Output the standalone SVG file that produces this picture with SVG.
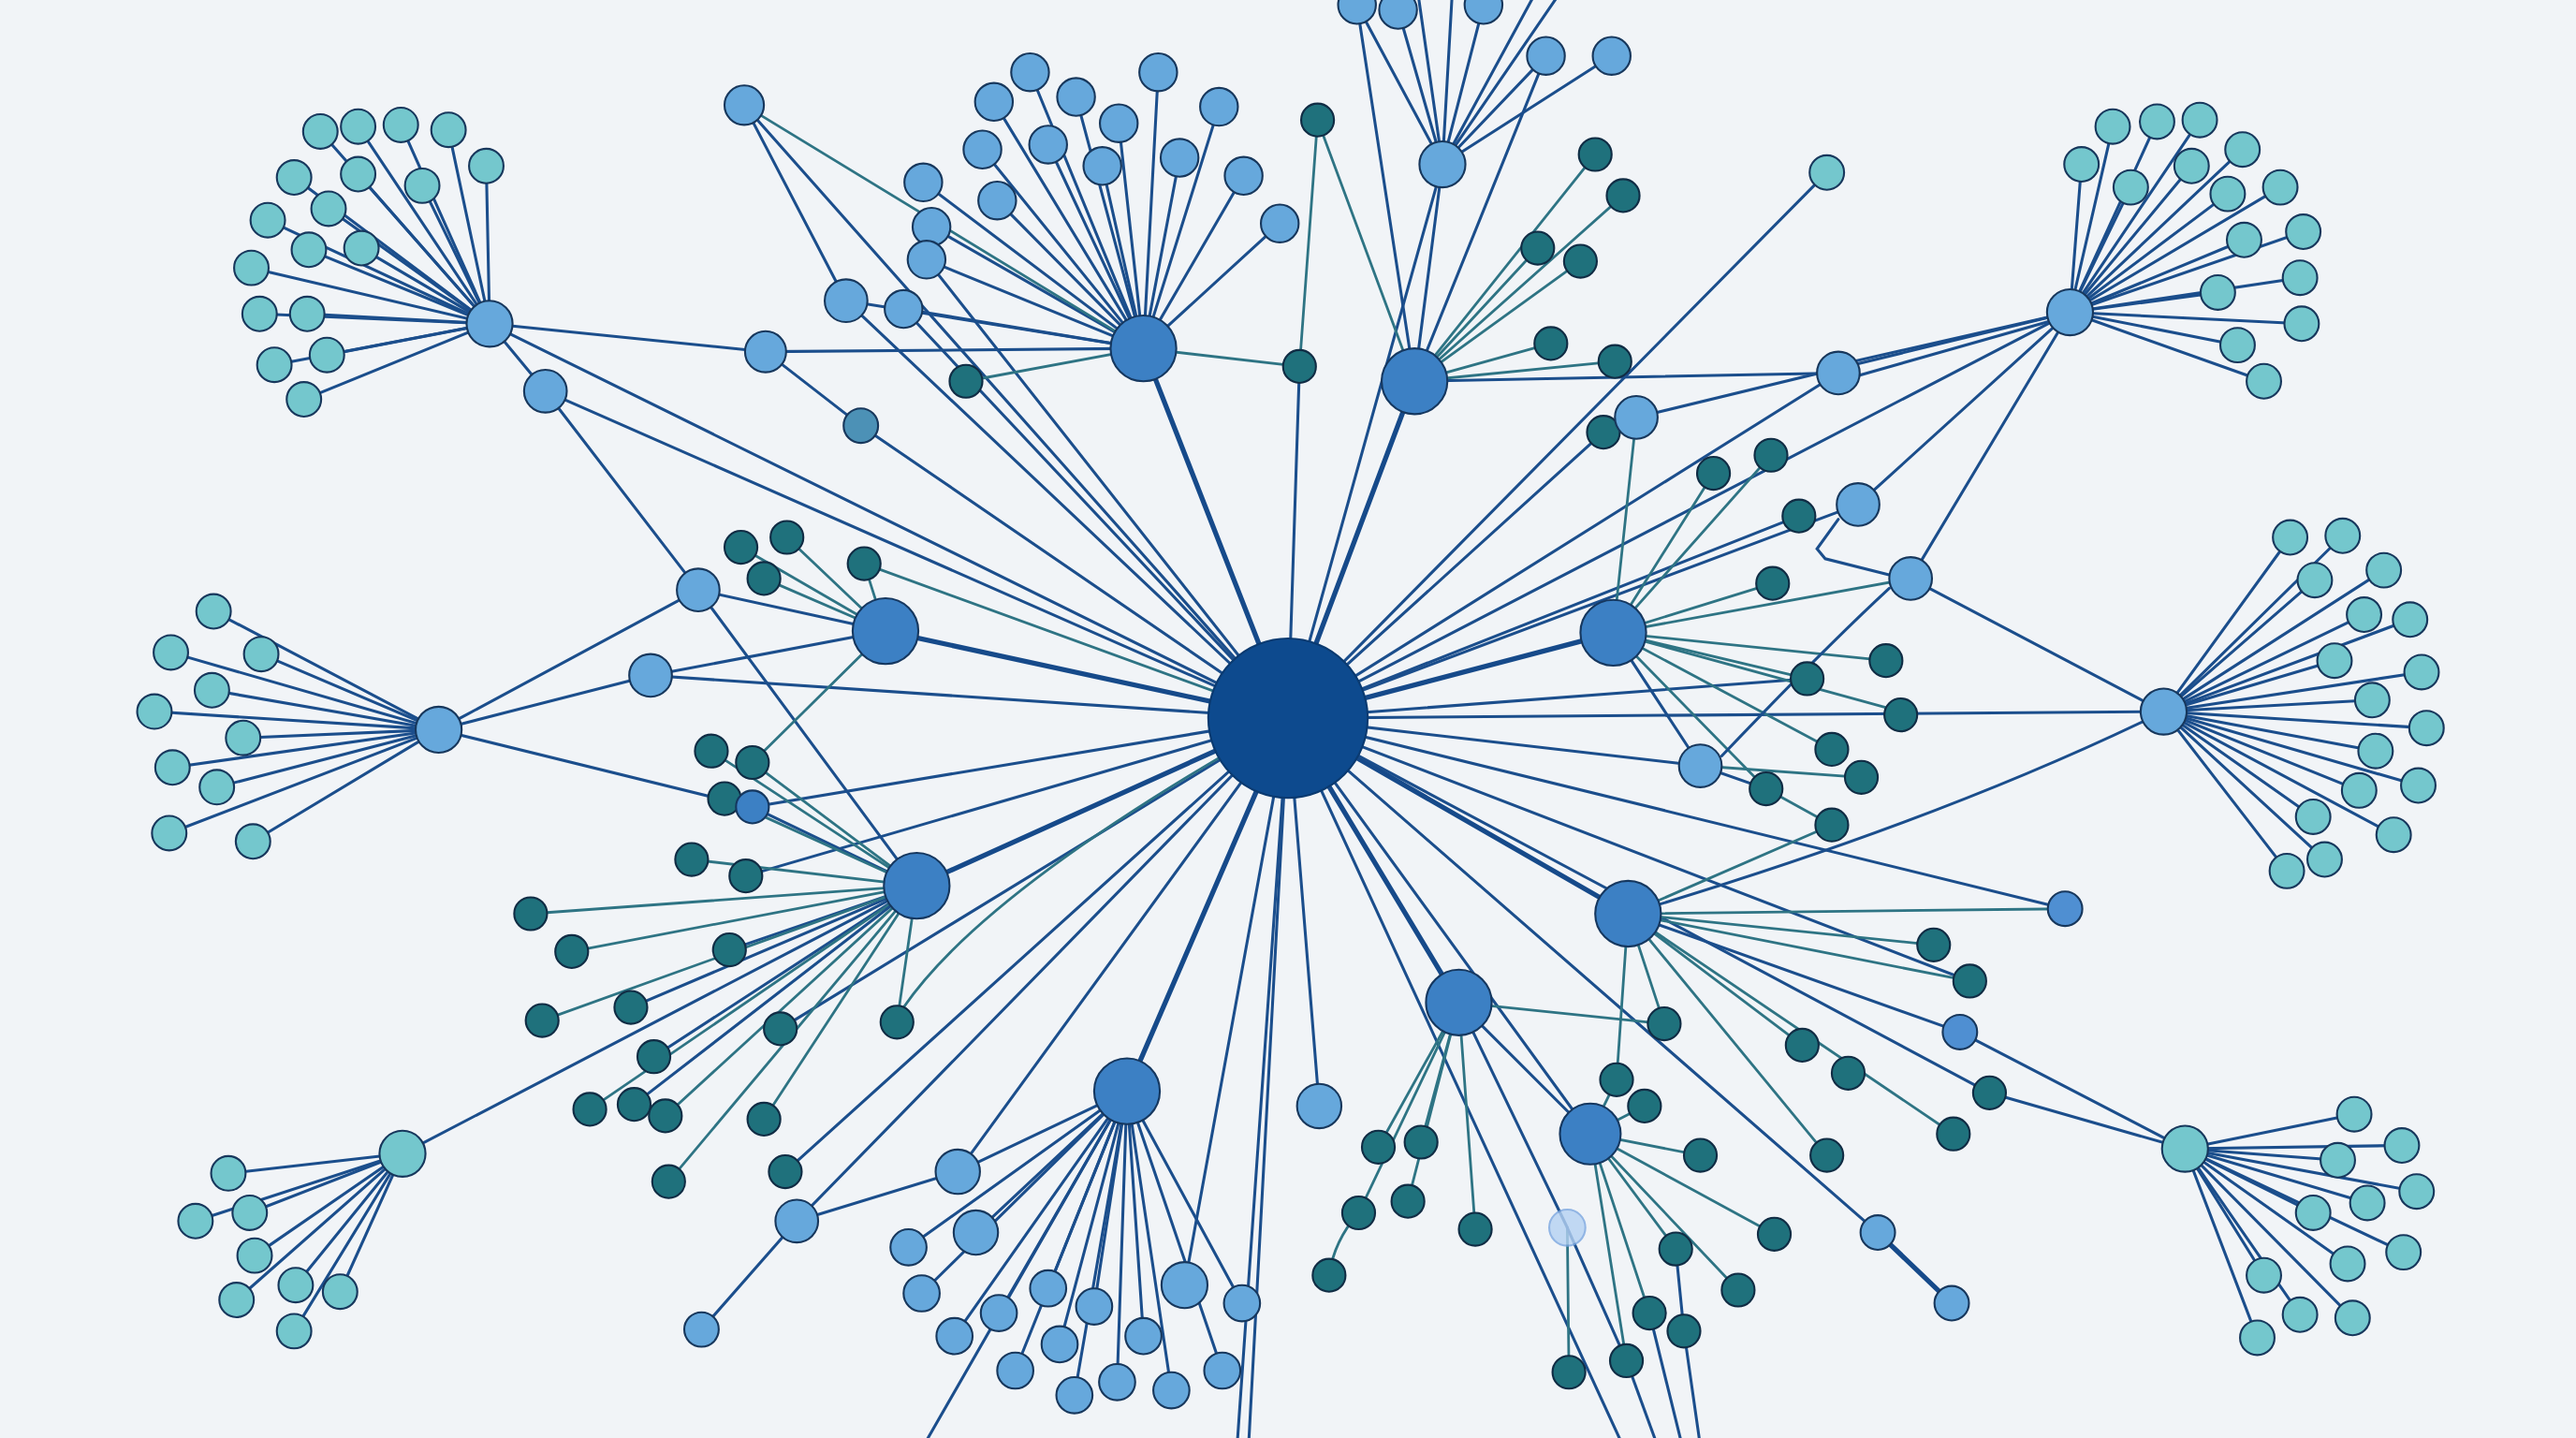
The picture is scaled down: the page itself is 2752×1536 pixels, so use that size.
<svg xmlns="http://www.w3.org/2000/svg" width="2752" height="1536" viewBox="0 0 2752 1536">
<style>
.e{stroke:#1b4e8c;stroke-width:1.75;fill:none;stroke-linecap:round}
.t{stroke:#2e7484;stroke-width:1.6;fill:none;stroke-linecap:round}
.k{stroke:#164a8a;stroke-width:3;fill:none;stroke-linecap:round}
circle{stroke-width:1.2}
.hub{fill:#0d4a8e;stroke:#0a3a70}
.mid{fill:#3c80c4;stroke:#15375f}
.lb{fill:#66a8dc;stroke:#17375c}
.tl{fill:#74c7cd;stroke:#17375c}
.dt{fill:#1f717c;stroke:#102c44}
.gh{fill:#b5d2f3;stroke:#7aa6e0;opacity:0.8}
</style>
<rect width="2752" height="1536" fill="#f1f4f7"/>
<g transform="scale(1.7551,1.7554)">
<g id="connectors">
<line class="k" x1="784" y1="437" x2="696" y2="212"/>
<line class="k" x1="784" y1="437" x2="861" y2="232"/>
<line class="k" x1="784" y1="437" x2="539" y2="384"/>
<line class="k" x1="784" y1="437" x2="982" y2="385"/>
<line class="k" x1="784" y1="437" x2="558" y2="539"/>
<line class="k" x1="784" y1="437" x2="991" y2="556"/>
<line class="k" x1="784" y1="437" x2="888" y2="610"/>
<line class="k" x1="784" y1="437" x2="686" y2="664"/>
<line class="e" x1="784" y1="437" x2="453" y2="64"/>
<line class="e" x1="784" y1="437" x2="515" y2="183"/>
<line class="e" x1="784" y1="437" x2="524" y2="259"/>
<line class="e" x1="784" y1="437" x2="332" y2="238"/>
<line class="e" x1="784" y1="437" x2="298" y2="197"/>
<line class="e" x1="784" y1="437" x2="564" y2="158"/>
<line class="e" x1="784" y1="437" x2="550" y2="188"/>
<line class="e" x1="784" y1="437" x2="396" y2="411"/>
<line class="e" x1="784" y1="437" x2="458" y2="491"/>
<line class="e" x1="784" y1="437" x2="454" y2="533"/>
<line class="e" x1="784" y1="437" x2="475" y2="626"/>
<line class="e" x1="784" y1="437" x2="478" y2="713"/>
<line class="e" x1="784" y1="437" x2="485" y2="743"/>
<line class="e" x1="784" y1="437" x2="583" y2="713"/>
<line class="e" x1="784" y1="437" x2="721" y2="782"/>
<line class="e" x1="784" y1="437" x2="753" y2="880"/>
<line class="e" x1="784" y1="437" x2="760" y2="880"/>
<line class="e" x1="784" y1="437" x2="803" y2="673"/>
<line class="e" x1="784" y1="437" x2="988" y2="880"/>
<line class="e" x1="784" y1="437" x2="968" y2="690"/>
<line class="e" x1="784" y1="437" x2="1143" y2="750"/>
<line class="e" x1="784" y1="437" x2="1211" y2="665"/>
<line class="e" x1="784" y1="437" x2="1199" y2="597"/>
<line class="e" x1="784" y1="437" x2="1257" y2="553"/>
<line class="e" x1="784" y1="437" x2="1035" y2="466"/>
<line class="e" x1="784" y1="437" x2="1100" y2="413"/>
<line class="e" x1="784" y1="437" x2="1317" y2="433"/>
<line class="e" x1="784" y1="437" x2="1095" y2="314"/>
<line class="e" x1="784" y1="437" x2="1131" y2="307"/>
<line class="e" x1="784" y1="437" x2="1119" y2="227"/>
<line class="e" x1="784" y1="437" x2="1260" y2="190"/>
<line class="e" x1="784" y1="437" x2="976" y2="263"/>
<line class="e" x1="784" y1="437" x2="1112" y2="105"/>
<line class="e" x1="784" y1="437" x2="878" y2="100"/>
<line class="e" x1="784" y1="437" x2="791" y2="223"/>
<line class="t" x1="784" y1="437" x2="526" y2="343"/>
<path class="t" d="M784,437 Q600,540 550,613"/>
<line class="e" x1="696" y1="212" x2="605" y2="62"/>
<line class="e" x1="696" y1="212" x2="627" y2="44"/>
<line class="e" x1="696" y1="212" x2="655" y2="59"/>
<line class="e" x1="696" y1="212" x2="681" y2="75"/>
<line class="e" x1="696" y1="212" x2="705" y2="44"/>
<line class="e" x1="696" y1="212" x2="742" y2="65"/>
<line class="e" x1="696" y1="212" x2="598" y2="91"/>
<line class="e" x1="696" y1="212" x2="638" y2="88"/>
<line class="e" x1="696" y1="212" x2="671" y2="101"/>
<line class="e" x1="696" y1="212" x2="718" y2="96"/>
<line class="e" x1="696" y1="212" x2="757" y2="107"/>
<line class="e" x1="696" y1="212" x2="779" y2="136"/>
<line class="e" x1="696" y1="212" x2="562" y2="111"/>
<line class="e" x1="696" y1="212" x2="607" y2="122"/>
<line class="e" x1="696" y1="212" x2="567" y2="138"/>
<line class="e" x1="696" y1="212" x2="564" y2="158"/>
<line class="e" x1="696" y1="212" x2="550" y2="188"/>
<line class="e" x1="696" y1="212" x2="466" y2="214"/>
<line class="e" x1="696" y1="212" x2="515" y2="183"/>
<line class="t" x1="696" y1="212" x2="453" y2="64"/>
<line class="t" x1="696" y1="212" x2="791" y2="223"/>
<line class="t" x1="696" y1="212" x2="588" y2="232"/>
<line class="t" x1="861" y1="232" x2="971" y2="94"/>
<line class="t" x1="861" y1="232" x2="988" y2="119"/>
<line class="t" x1="861" y1="232" x2="936" y2="151"/>
<line class="t" x1="861" y1="232" x2="962" y2="159"/>
<line class="t" x1="861" y1="232" x2="944" y2="209"/>
<line class="t" x1="861" y1="232" x2="983" y2="220"/>
<line class="t" x1="861" y1="232" x2="802" y2="73"/>
<line class="e" x1="861" y1="232" x2="1119" y2="227"/>
<line class="e" x1="861" y1="232" x2="878" y2="100"/>
<line class="e" x1="861" y1="232" x2="826" y2="3"/>
<line class="e" x1="861" y1="232" x2="941" y2="34"/>
<line class="t" x1="802" y1="73" x2="791" y2="223"/>
<line class="e" x1="878" y1="100" x2="826" y2="3"/>
<line class="e" x1="878" y1="100" x2="851" y2="6"/>
<line class="e" x1="878" y1="100" x2="903" y2="3"/>
<line class="e" x1="878" y1="100" x2="941" y2="34"/>
<line class="e" x1="878" y1="100" x2="981" y2="34"/>
<line class="e" x1="878" y1="100" x2="863" y2="-5"/>
<line class="e" x1="878" y1="100" x2="884" y2="-5"/>
<line class="e" x1="878" y1="100" x2="935" y2="-5"/>
<line class="e" x1="878" y1="100" x2="950" y2="-5"/>
<line class="e" x1="298" y1="197" x2="195" y2="80"/>
<line class="e" x1="298" y1="197" x2="218" y2="77"/>
<line class="e" x1="298" y1="197" x2="244" y2="76"/>
<line class="e" x1="298" y1="197" x2="273" y2="79"/>
<line class="e" x1="298" y1="197" x2="296" y2="101"/>
<line class="e" x1="298" y1="197" x2="179" y2="108"/>
<line class="e" x1="298" y1="197" x2="218" y2="106"/>
<line class="e" x1="298" y1="197" x2="257" y2="113"/>
<line class="e" x1="298" y1="197" x2="200" y2="127"/>
<line class="e" x1="298" y1="197" x2="163" y2="134"/>
<line class="e" x1="298" y1="197" x2="188" y2="152"/>
<line class="e" x1="298" y1="197" x2="220" y2="151"/>
<line class="e" x1="298" y1="197" x2="153" y2="163"/>
<line class="e" x1="298" y1="197" x2="158" y2="191"/>
<line class="e" x1="298" y1="197" x2="187" y2="191"/>
<line class="e" x1="298" y1="197" x2="199" y2="216"/>
<line class="e" x1="298" y1="197" x2="167" y2="222"/>
<line class="e" x1="298" y1="197" x2="185" y2="243"/>
<line class="e" x1="298" y1="197" x2="466" y2="214"/>
<line class="e" x1="298" y1="197" x2="332" y2="238"/>
<line class="e" x1="453" y1="64" x2="515" y2="183"/>
<line class="e" x1="466" y1="214" x2="524" y2="259"/>
<line class="e" x1="332" y1="238" x2="425" y2="359"/>
<line class="e" x1="425" y1="359" x2="558" y2="539"/>
<line class="e" x1="425" y1="359" x2="267" y2="444"/>
<line class="e" x1="425" y1="359" x2="539" y2="384"/>
<line class="e" x1="267" y1="444" x2="130" y2="372"/>
<line class="e" x1="267" y1="444" x2="104" y2="397"/>
<line class="e" x1="267" y1="444" x2="159" y2="398"/>
<line class="e" x1="267" y1="444" x2="129" y2="420"/>
<line class="e" x1="267" y1="444" x2="94" y2="433"/>
<line class="e" x1="267" y1="444" x2="148" y2="449"/>
<line class="e" x1="267" y1="444" x2="105" y2="467"/>
<line class="e" x1="267" y1="444" x2="132" y2="479"/>
<line class="e" x1="267" y1="444" x2="103" y2="507"/>
<line class="e" x1="267" y1="444" x2="154" y2="512"/>
<line class="e" x1="267" y1="444" x2="396" y2="411"/>
<line class="e" x1="267" y1="444" x2="458" y2="491"/>
<line class="e" x1="396" y1="411" x2="539" y2="384"/>
<line class="t" x1="539" y1="384" x2="451" y2="333"/>
<line class="t" x1="539" y1="384" x2="479" y2="327"/>
<line class="t" x1="539" y1="384" x2="465" y2="352"/>
<line class="t" x1="539" y1="384" x2="526" y2="343"/>
<line class="t" x1="539" y1="384" x2="458" y2="464"/>
<line class="e" x1="558" y1="539" x2="458" y2="491"/>
<line class="t" x1="558" y1="539" x2="433" y2="457"/>
<line class="t" x1="558" y1="539" x2="458" y2="464"/>
<line class="t" x1="558" y1="539" x2="441" y2="486"/>
<line class="t" x1="558" y1="539" x2="421" y2="523"/>
<line class="t" x1="558" y1="539" x2="323" y2="556"/>
<line class="t" x1="558" y1="539" x2="348" y2="579"/>
<line class="e" x1="558" y1="539" x2="444" y2="578"/>
<line class="e" x1="558" y1="539" x2="384" y2="613"/>
<line class="t" x1="558" y1="539" x2="330" y2="621"/>
<line class="e" x1="558" y1="539" x2="398" y2="643"/>
<line class="t" x1="558" y1="539" x2="359" y2="675"/>
<line class="e" x1="558" y1="539" x2="386" y2="672"/>
<line class="t" x1="558" y1="539" x2="405" y2="679"/>
<line class="t" x1="558" y1="539" x2="465" y2="681"/>
<line class="t" x1="558" y1="539" x2="407" y2="719"/>
<line class="t" x1="558" y1="539" x2="546" y2="622"/>
<line class="e" x1="558" y1="539" x2="245" y2="702"/>
<line class="e" x1="245" y1="702" x2="139" y2="714"/>
<line class="e" x1="245" y1="702" x2="152" y2="738"/>
<line class="e" x1="245" y1="702" x2="119" y2="743"/>
<line class="e" x1="245" y1="702" x2="155" y2="764"/>
<line class="e" x1="245" y1="702" x2="180" y2="782"/>
<line class="e" x1="245" y1="702" x2="207" y2="786"/>
<line class="e" x1="245" y1="702" x2="144" y2="791"/>
<line class="e" x1="245" y1="702" x2="179" y2="810"/>
<line class="e" x1="485" y1="743" x2="427" y2="809"/>
<line class="e" x1="485" y1="743" x2="583" y2="713"/>
<line class="e" x1="686" y1="664" x2="583" y2="713"/>
<line class="e" x1="686" y1="664" x2="594" y2="750"/>
<line class="e" x1="686" y1="664" x2="553" y2="759"/>
<line class="e" x1="686" y1="664" x2="561" y2="787"/>
<line class="e" x1="686" y1="664" x2="581" y2="813"/>
<line class="e" x1="686" y1="664" x2="608" y2="799"/>
<line class="e" x1="686" y1="664" x2="638" y2="784"/>
<line class="e" x1="686" y1="664" x2="666" y2="795"/>
<line class="e" x1="686" y1="664" x2="756" y2="793"/>
<line class="e" x1="686" y1="664" x2="645" y2="818"/>
<line class="e" x1="686" y1="664" x2="696" y2="813"/>
<line class="e" x1="686" y1="664" x2="618" y2="834"/>
<line class="e" x1="686" y1="664" x2="680" y2="841"/>
<line class="e" x1="686" y1="664" x2="654" y2="849"/>
<line class="e" x1="686" y1="664" x2="713" y2="846"/>
<line class="e" x1="686" y1="664" x2="744" y2="834"/>
<line class="e" x1="686" y1="664" x2="562" y2="880"/>
<line class="t" x1="888" y1="610" x2="1013" y2="623"/>
<line class="t" x1="888" y1="610" x2="839" y2="698"/>
<line class="t" x1="888" y1="610" x2="865" y2="695"/>
<line class="t" x1="888" y1="610" x2="827" y2="738"/>
<line class="t" x1="888" y1="610" x2="857" y2="731"/>
<line class="t" x1="888" y1="610" x2="898" y2="748"/>
<path class="t" d="M827,738 Q812,755 809,776"/>
<line class="e" x1="888" y1="610" x2="968" y2="690"/>
<line class="e" x1="888" y1="610" x2="954" y2="747"/>
<line class="t" x1="954" y1="747" x2="955" y2="835"/>
<line class="e" x1="954" y1="747" x2="990" y2="828"/>
<line class="e" x1="990" y1="828" x2="1009" y2="880"/>
<line class="e" x1="1004" y1="799" x2="1024" y2="880"/>
<line class="e" x1="1025" y1="810" x2="1035" y2="880"/>
<line class="e" x1="1020" y1="760" x2="1025" y2="810"/>
<line class="t" x1="968" y1="690" x2="984" y2="657"/>
<line class="t" x1="968" y1="690" x2="1001" y2="673"/>
<line class="t" x1="968" y1="690" x2="1035" y2="703"/>
<line class="t" x1="968" y1="690" x2="1020" y2="760"/>
<line class="t" x1="968" y1="690" x2="1004" y2="799"/>
<line class="t" x1="968" y1="690" x2="990" y2="828"/>
<line class="t" x1="968" y1="690" x2="1080" y2="751"/>
<line class="t" x1="968" y1="690" x2="1058" y2="785"/>
<line class="t" x1="991" y1="556" x2="1177" y2="575"/>
<line class="t" x1="991" y1="556" x2="1199" y2="597"/>
<line class="t" x1="991" y1="556" x2="1097" y2="636"/>
<line class="t" x1="991" y1="556" x2="1189" y2="690"/>
<line class="t" x1="991" y1="556" x2="1112" y2="703"/>
<line class="t" x1="991" y1="556" x2="1257" y2="553"/>
<line class="t" x1="991" y1="556" x2="1115" y2="502"/>
<line class="t" x1="991" y1="556" x2="1013" y2="623"/>
<line class="t" x1="991" y1="556" x2="984" y2="657"/>
<line class="e" x1="991" y1="556" x2="1193" y2="628"/>
<path class="e" d="M1317,433 Q1180,500 991,556"/>
<line class="e" x1="1193" y1="628" x2="1330" y2="699"/>
<line class="e" x1="1211" y1="665" x2="1330" y2="699"/>
<line class="k" x1="1143" y1="750" x2="1188" y2="793"/>
<line class="e" x1="1330" y1="699" x2="1433" y2="678"/>
<line class="e" x1="1330" y1="699" x2="1462" y2="697"/>
<line class="e" x1="1330" y1="699" x2="1423" y2="706"/>
<line class="e" x1="1330" y1="699" x2="1471" y2="725"/>
<line class="e" x1="1330" y1="699" x2="1441" y2="732"/>
<line class="e" x1="1330" y1="699" x2="1408" y2="738"/>
<line class="e" x1="1330" y1="699" x2="1463" y2="762"/>
<line class="e" x1="1330" y1="699" x2="1429" y2="769"/>
<line class="e" x1="1330" y1="699" x2="1378" y2="776"/>
<line class="e" x1="1330" y1="699" x2="1400" y2="800"/>
<line class="e" x1="1330" y1="699" x2="1432" y2="802"/>
<line class="e" x1="1330" y1="699" x2="1374" y2="814"/>
<line class="t" x1="982" y1="385" x2="996" y2="254"/>
<line class="t" x1="982" y1="385" x2="1043" y2="288"/>
<line class="t" x1="982" y1="385" x2="1078" y2="277"/>
<line class="t" x1="982" y1="385" x2="1079" y2="355"/>
<line class="t" x1="982" y1="385" x2="1148" y2="402"/>
<line class="t" x1="982" y1="385" x2="1100" y2="413"/>
<line class="t" x1="982" y1="385" x2="1157" y2="433"/>
<line class="t" x1="982" y1="385" x2="1115" y2="456"/>
<line class="t" x1="982" y1="385" x2="1075" y2="480"/>
<line class="t" x1="982" y1="385" x2="1163" y2="352"/>
<line class="e" x1="982" y1="385" x2="1035" y2="466"/>
<line class="e" x1="1075" y1="480" x2="1035" y2="466"/>
<line class="t" x1="1133" y1="473" x2="1035" y2="466"/>
<line class="t" x1="1075" y1="480" x2="1115" y2="502"/>
<path class="e" d="M1119,316 L1106,334 L1111,340 L1151,350"/>
<path class="e" d="M1150,358 Q1110,395 1048,460"/>
<line class="e" x1="1163" y1="352" x2="1317" y2="433"/>
<line class="e" x1="1260" y1="190" x2="1286" y2="77"/>
<line class="e" x1="1260" y1="190" x2="1313" y2="74"/>
<line class="e" x1="1260" y1="190" x2="1339" y2="73"/>
<line class="e" x1="1260" y1="190" x2="1267" y2="100"/>
<line class="e" x1="1260" y1="190" x2="1297" y2="114"/>
<line class="e" x1="1260" y1="190" x2="1334" y2="101"/>
<line class="e" x1="1260" y1="190" x2="1365" y2="91"/>
<line class="e" x1="1260" y1="190" x2="1356" y2="118"/>
<line class="e" x1="1260" y1="190" x2="1388" y2="114"/>
<line class="e" x1="1260" y1="190" x2="1366" y2="146"/>
<line class="e" x1="1260" y1="190" x2="1402" y2="141"/>
<line class="e" x1="1260" y1="190" x2="1350" y2="178"/>
<line class="e" x1="1260" y1="190" x2="1400" y2="169"/>
<line class="e" x1="1260" y1="190" x2="1401" y2="197"/>
<line class="e" x1="1260" y1="190" x2="1362" y2="210"/>
<line class="e" x1="1260" y1="190" x2="1378" y2="232"/>
<line class="e" x1="1260" y1="190" x2="1119" y2="222"/>
<line class="e" x1="1260" y1="192" x2="1119" y2="232"/>
<line class="e" x1="1260" y1="190" x2="996" y2="254"/>
<line class="e" x1="1260" y1="190" x2="1131" y2="307"/>
<line class="e" x1="1260" y1="190" x2="1163" y2="352"/>
<line class="e" x1="1317" y1="433" x2="1394" y2="327"/>
<line class="e" x1="1317" y1="433" x2="1426" y2="326"/>
<line class="e" x1="1317" y1="433" x2="1409" y2="353"/>
<line class="e" x1="1317" y1="433" x2="1451" y2="347"/>
<line class="e" x1="1317" y1="433" x2="1439" y2="374"/>
<line class="e" x1="1317" y1="433" x2="1467" y2="377"/>
<line class="e" x1="1317" y1="433" x2="1421" y2="402"/>
<line class="e" x1="1317" y1="433" x2="1474" y2="409"/>
<line class="e" x1="1317" y1="433" x2="1444" y2="426"/>
<line class="e" x1="1317" y1="433" x2="1477" y2="443"/>
<line class="e" x1="1317" y1="433" x2="1446" y2="457"/>
<line class="e" x1="1317" y1="433" x2="1472" y2="478"/>
<line class="e" x1="1317" y1="433" x2="1436" y2="481"/>
<line class="e" x1="1317" y1="433" x2="1408" y2="497"/>
<line class="e" x1="1317" y1="433" x2="1457" y2="508"/>
<line class="e" x1="1317" y1="433" x2="1415" y2="523"/>
<line class="e" x1="1317" y1="433" x2="1392" y2="530"/>
</g>
<g id="n-L1-leaves">
<g id="l1a"><circle class="tl" cx="195" cy="80" r="10.5"/></g>
<g id="l1b"><circle class="tl" cx="218" cy="77" r="10.5"/></g>
<g id="l1c"><circle class="tl" cx="244" cy="76" r="10.5"/></g>
<g id="l1d"><circle class="tl" cx="273" cy="79" r="10.5"/></g>
<g id="l1e"><circle class="tl" cx="296" cy="101" r="10.5"/></g>
<g id="l1f"><circle class="tl" cx="179" cy="108" r="10.5"/></g>
<g id="l1g"><circle class="tl" cx="218" cy="106" r="10.5"/></g>
<g id="l1h"><circle class="tl" cx="257" cy="113" r="10.5"/></g>
<g id="l1i"><circle class="tl" cx="200" cy="127" r="10.5"/></g>
<g id="l1j"><circle class="tl" cx="163" cy="134" r="10.5"/></g>
<g id="l1k"><circle class="tl" cx="188" cy="152" r="10.5"/></g>
<g id="l1l"><circle class="tl" cx="220" cy="151" r="10.5"/></g>
<g id="l1m"><circle class="tl" cx="153" cy="163" r="10.5"/></g>
<g id="l1n"><circle class="tl" cx="158" cy="191" r="10.5"/></g>
<g id="l1o"><circle class="tl" cx="187" cy="191" r="10.5"/></g>
<g id="l1p"><circle class="tl" cx="199" cy="216" r="10.5"/></g>
<g id="l1q"><circle class="tl" cx="167" cy="222" r="10.5"/></g>
<g id="l1r"><circle class="tl" cx="185" cy="243" r="10.5"/></g>
</g>
<g id="n-L2-leaves">
<g id="l2a"><circle class="tl" cx="130" cy="372" r="10.5"/></g>
<g id="l2b"><circle class="tl" cx="104" cy="397" r="10.5"/></g>
<g id="l2c"><circle class="tl" cx="159" cy="398" r="10.5"/></g>
<g id="l2d"><circle class="tl" cx="129" cy="420" r="10.5"/></g>
<g id="l2e"><circle class="tl" cx="94" cy="433" r="10.5"/></g>
<g id="l2f"><circle class="tl" cx="148" cy="449" r="10.5"/></g>
<g id="l2g"><circle class="tl" cx="105" cy="467" r="10.5"/></g>
<g id="l2h"><circle class="tl" cx="132" cy="479" r="10.5"/></g>
<g id="l2i"><circle class="tl" cx="103" cy="507" r="10.5"/></g>
<g id="l2j"><circle class="tl" cx="154" cy="512" r="10.5"/></g>
</g>
<g id="n-L3-leaves">
<g id="l3a"><circle class="tl" cx="139" cy="714" r="10.5"/></g>
<g id="l3b"><circle class="tl" cx="152" cy="738" r="10.5"/></g>
<g id="l3c"><circle class="tl" cx="119" cy="743" r="10.5"/></g>
<g id="l3d"><circle class="tl" cx="155" cy="764" r="10.5"/></g>
<g id="l3e"><circle class="tl" cx="180" cy="782" r="10.5"/></g>
<g id="l3f"><circle class="tl" cx="207" cy="786" r="10.5"/></g>
<g id="l3g"><circle class="tl" cx="144" cy="791" r="10.5"/></g>
<g id="l3h"><circle class="tl" cx="179" cy="810" r="10.5"/></g>
</g>
<g id="n-L4-leaves">
<g id="l4a"><circle class="tl" cx="1286" cy="77" r="10.5"/></g>
<g id="l4b"><circle class="tl" cx="1313" cy="74" r="10.5"/></g>
<g id="l4c"><circle class="tl" cx="1339" cy="73" r="10.5"/></g>
<g id="l4d"><circle class="tl" cx="1267" cy="100" r="10.5"/></g>
<g id="l4e"><circle class="tl" cx="1297" cy="114" r="10.5"/></g>
<g id="l4f"><circle class="tl" cx="1334" cy="101" r="10.5"/></g>
<g id="l4g"><circle class="tl" cx="1365" cy="91" r="10.5"/></g>
<g id="l4h"><circle class="tl" cx="1356" cy="118" r="10.5"/></g>
<g id="l4i"><circle class="tl" cx="1388" cy="114" r="10.5"/></g>
<g id="l4j"><circle class="tl" cx="1366" cy="146" r="10.5"/></g>
<g id="l4k"><circle class="tl" cx="1402" cy="141" r="10.5"/></g>
<g id="l4l"><circle class="tl" cx="1350" cy="178" r="10.5"/></g>
<g id="l4m"><circle class="tl" cx="1400" cy="169" r="10.5"/></g>
<g id="l4n"><circle class="tl" cx="1401" cy="197" r="10.5"/></g>
<g id="l4o"><circle class="tl" cx="1362" cy="210" r="10.5"/></g>
<g id="l4p"><circle class="tl" cx="1378" cy="232" r="10.5"/></g>
</g>
<g id="n-L5-leaves">
<g id="l5a"><circle class="tl" cx="1394" cy="327" r="10.5"/></g>
<g id="l5b"><circle class="tl" cx="1426" cy="326" r="10.5"/></g>
<g id="l5c"><circle class="tl" cx="1409" cy="353" r="10.5"/></g>
<g id="l5d"><circle class="tl" cx="1451" cy="347" r="10.5"/></g>
<g id="l5e"><circle class="tl" cx="1439" cy="374" r="10.5"/></g>
<g id="l5f"><circle class="tl" cx="1467" cy="377" r="10.5"/></g>
<g id="l5g"><circle class="tl" cx="1421" cy="402" r="10.5"/></g>
<g id="l5h"><circle class="tl" cx="1474" cy="409" r="10.5"/></g>
<g id="l5i"><circle class="tl" cx="1444" cy="426" r="10.5"/></g>
<g id="l5j"><circle class="tl" cx="1477" cy="443" r="10.5"/></g>
<g id="l5k"><circle class="tl" cx="1446" cy="457" r="10.5"/></g>
<g id="l5l"><circle class="tl" cx="1472" cy="478" r="10.5"/></g>
<g id="l5m"><circle class="tl" cx="1436" cy="481" r="10.5"/></g>
<g id="l5n"><circle class="tl" cx="1408" cy="497" r="10.5"/></g>
<g id="l5o"><circle class="tl" cx="1457" cy="508" r="10.5"/></g>
<g id="l5p"><circle class="tl" cx="1415" cy="523" r="10.5"/></g>
<g id="l5q"><circle class="tl" cx="1392" cy="530" r="10.5"/></g>
</g>
<g id="n-L6-leaves">
<g id="l6a"><circle class="tl" cx="1433" cy="678" r="10.5"/></g>
<g id="l6b"><circle class="tl" cx="1462" cy="697" r="10.5"/></g>
<g id="l6c"><circle class="tl" cx="1423" cy="706" r="10.5"/></g>
<g id="l6d"><circle class="tl" cx="1471" cy="725" r="10.5"/></g>
<g id="l6e"><circle class="tl" cx="1441" cy="732" r="10.5"/></g>
<g id="l6f"><circle class="tl" cx="1408" cy="738" r="10.5"/></g>
<g id="l6g"><circle class="tl" cx="1463" cy="762" r="10.5"/></g>
<g id="l6h"><circle class="tl" cx="1429" cy="769" r="10.5"/></g>
<g id="l6i"><circle class="tl" cx="1378" cy="776" r="10.5"/></g>
<g id="l6j"><circle class="tl" cx="1400" cy="800" r="10.5"/></g>
<g id="l6k"><circle class="tl" cx="1432" cy="802" r="10.5"/></g>
<g id="l6l"><circle class="tl" cx="1374" cy="814" r="10.5"/></g>
</g>
<g id="n-special"><g id="s1"><circle class="tl" cx="1112" cy="105" r="10.5"/></g></g>
<g id="n-H1-leaves">
<g id="h1a"><circle class="lb" cx="605" cy="62" r="11.5"/></g>
<g id="h1b"><circle class="lb" cx="627" cy="44" r="11.5"/></g>
<g id="h1c"><circle class="lb" cx="655" cy="59" r="11.5"/></g>
<g id="h1d"><circle class="lb" cx="681" cy="75" r="11.5"/></g>
<g id="h1e"><circle class="lb" cx="705" cy="44" r="11.5"/></g>
<g id="h1f"><circle class="lb" cx="742" cy="65" r="11.5"/></g>
<g id="h1g"><circle class="lb" cx="598" cy="91" r="11.5"/></g>
<g id="h1h"><circle class="lb" cx="638" cy="88" r="11.5"/></g>
<g id="h1i"><circle class="lb" cx="671" cy="101" r="11.5"/></g>
<g id="h1j"><circle class="lb" cx="718" cy="96" r="11.5"/></g>
<g id="h1k"><circle class="lb" cx="757" cy="107" r="11.5"/></g>
<g id="h1l"><circle class="lb" cx="779" cy="136" r="11.5"/></g>
<g id="h1m"><circle class="lb" cx="562" cy="111" r="11.5"/></g>
<g id="h1n"><circle class="lb" cx="607" cy="122" r="11.5"/></g>
<g id="h1o"><circle class="lb" cx="567" cy="138" r="11.5"/></g>
<g id="h1p"><circle class="lb" cx="564" cy="158" r="11.5"/></g>
<g id="h1q"><circle class="lb" cx="550" cy="188" r="11.5"/></g>
</g>
<g id="n-T-leaves">
<g id="ta"><circle class="lb" cx="826" cy="3" r="11.5"/></g>
<g id="tb"><circle class="lb" cx="851" cy="6" r="11.5"/></g>
<g id="tc"><circle class="lb" cx="903" cy="3" r="11.5"/></g>
<g id="td"><circle class="lb" cx="941" cy="34" r="11.5"/></g>
<g id="te"><circle class="lb" cx="981" cy="34" r="11.5"/></g>
</g>
<g id="n-H8-leaves">
<g id="h8a"><circle class="lb" cx="553" cy="759" r="11"/></g>
<g id="h8b"><circle class="lb" cx="561" cy="787" r="11"/></g>
<g id="h8c"><circle class="lb" cx="581" cy="813" r="11"/></g>
<g id="h8d"><circle class="lb" cx="608" cy="799" r="11"/></g>
<g id="h8e"><circle class="lb" cx="638" cy="784" r="11"/></g>
<g id="h8f"><circle class="lb" cx="666" cy="795" r="11"/></g>
<g id="h8g"><circle class="lb" cx="756" cy="793" r="11"/></g>
<g id="h8h"><circle class="lb" cx="645" cy="818" r="11"/></g>
<g id="h8i"><circle class="lb" cx="696" cy="813" r="11"/></g>
<g id="h8j"><circle class="lb" cx="618" cy="834" r="11"/></g>
<g id="h8k"><circle class="lb" cx="680" cy="841" r="11"/></g>
<g id="h8l"><circle class="lb" cx="654" cy="849" r="11"/></g>
<g id="h8m"><circle class="lb" cx="713" cy="846" r="11"/></g>
<g id="h8n"><circle class="lb" cx="744" cy="834" r="11"/></g>
</g>
<g id="n-darkteal">
<g id="d1"><circle class="dt" cx="802" cy="73" r="10"/></g>
<g id="d2"><circle class="dt" cx="791" cy="223" r="10"/></g>
<g id="d3"><circle class="dt" cx="588" cy="232" r="10"/></g>
<g id="d4"><circle class="dt" cx="971" cy="94" r="10"/></g>
<g id="d5"><circle class="dt" cx="988" cy="119" r="10"/></g>
<g id="d6"><circle class="dt" cx="936" cy="151" r="10"/></g>
<g id="d7"><circle class="dt" cx="962" cy="159" r="10"/></g>
<g id="d8"><circle class="dt" cx="944" cy="209" r="10"/></g>
<g id="d9"><circle class="dt" cx="983" cy="220" r="10"/></g>
<g id="d10"><circle class="dt" cx="976" cy="263" r="10"/></g>
<g id="d11"><circle class="dt" cx="1043" cy="288" r="10"/></g>
<g id="d12"><circle class="dt" cx="1078" cy="277" r="10"/></g>
<g id="d13"><circle class="dt" cx="1095" cy="314" r="10"/></g>
<g id="d14"><circle class="dt" cx="1079" cy="355" r="10"/></g>
<g id="d15"><circle class="dt" cx="1148" cy="402" r="10"/></g>
<g id="d16"><circle class="dt" cx="1100" cy="413" r="10"/></g>
<g id="d17"><circle class="dt" cx="1157" cy="435" r="10"/></g>
<g id="d18"><circle class="dt" cx="1115" cy="456" r="10"/></g>
<g id="d19"><circle class="dt" cx="1133" cy="473" r="10"/></g>
<g id="d20"><circle class="dt" cx="1075" cy="480" r="10"/></g>
<g id="d21"><circle class="dt" cx="1115" cy="502" r="10"/></g>
<g id="d22"><circle class="dt" cx="1177" cy="575" r="10"/></g>
<g id="d23"><circle class="dt" cx="1199" cy="597" r="10"/></g>
<g id="d24"><circle class="dt" cx="1097" cy="636" r="10"/></g>
<g id="d25"><circle class="dt" cx="1125" cy="653" r="10"/></g>
<g id="d26"><circle class="dt" cx="1211" cy="665" r="10"/></g>
<g id="d27"><circle class="dt" cx="1189" cy="690" r="10"/></g>
<g id="d28"><circle class="dt" cx="1112" cy="703" r="10"/></g>
<g id="d29"><circle class="dt" cx="1080" cy="751" r="10"/></g>
<g id="d30"><circle class="dt" cx="1058" cy="785" r="10"/></g>
<g id="d31"><circle class="dt" cx="1013" cy="623" r="10"/></g>
<g id="d32"><circle class="dt" cx="984" cy="657" r="10"/></g>
<g id="d33"><circle class="dt" cx="1001" cy="673" r="10"/></g>
<g id="d34"><circle class="dt" cx="1035" cy="703" r="10"/></g>
<g id="d35"><circle class="dt" cx="1020" cy="760" r="10"/></g>
<g id="d36"><circle class="dt" cx="1004" cy="799" r="10"/></g>
<g id="d37"><circle class="dt" cx="1025" cy="810" r="10"/></g>
<g id="d38"><circle class="dt" cx="990" cy="828" r="10"/></g>
<g id="d39"><circle class="dt" cx="955" cy="835" r="10"/></g>
<g id="d40"><circle class="dt" cx="839" cy="698" r="10"/></g>
<g id="d41"><circle class="dt" cx="865" cy="695" r="10"/></g>
<g id="d42"><circle class="dt" cx="827" cy="738" r="10"/></g>
<g id="d43"><circle class="dt" cx="857" cy="731" r="10"/></g>
<g id="d44"><circle class="dt" cx="898" cy="748" r="10"/></g>
<g id="d45"><circle class="dt" cx="809" cy="776" r="10"/></g>
<g id="d46"><circle class="dt" cx="451" cy="333" r="10"/></g>
<g id="d47"><circle class="dt" cx="479" cy="327" r="10"/></g>
<g id="d48"><circle class="dt" cx="465" cy="352" r="10"/></g>
<g id="d49"><circle class="dt" cx="526" cy="343" r="10"/></g>
<g id="d50"><circle class="dt" cx="433" cy="457" r="10"/></g>
<g id="d51"><circle class="dt" cx="458" cy="464" r="10"/></g>
<g id="d52"><circle class="dt" cx="441" cy="486" r="10"/></g>
<g id="d53"><circle class="dt" cx="421" cy="523" r="10"/></g>
<g id="d54"><circle class="dt" cx="454" cy="533" r="10"/></g>
<g id="d55"><circle class="dt" cx="323" cy="556" r="10"/></g>
<g id="d56"><circle class="dt" cx="348" cy="579" r="10"/></g>
<g id="d57"><circle class="dt" cx="444" cy="578" r="10"/></g>
<g id="d58"><circle class="dt" cx="384" cy="613" r="10"/></g>
<g id="d59"><circle class="dt" cx="330" cy="621" r="10"/></g>
<g id="d60"><circle class="dt" cx="475" cy="626" r="10"/></g>
<g id="d61"><circle class="dt" cx="398" cy="643" r="10"/></g>
<g id="d62"><circle class="dt" cx="359" cy="675" r="10"/></g>
<g id="d63"><circle class="dt" cx="386" cy="672" r="10"/></g>
<g id="d64"><circle class="dt" cx="405" cy="679" r="10"/></g>
<g id="d65"><circle class="dt" cx="465" cy="681" r="10"/></g>
<g id="d66"><circle class="dt" cx="407" cy="719" r="10"/></g>
<g id="d67"><circle class="dt" cx="478" cy="713" r="10"/></g>
<g id="d68"><circle class="dt" cx="546" cy="622" r="10"/></g>
</g>
<g id="n-lightblue">
<g id="a1"><circle class="lb" cx="453" cy="64" r="12"/></g>
<g id="a2"><circle class="lb" cx="466" cy="214" r="12.5"/></g>
<g id="a3"><circle class="lb" cx="332" cy="238" r="13"/></g>
<g id="a4"><circle class="lb" cx="515" cy="183" r="13"/></g>
<g id="a5"><circle class="lb" cx="425" cy="359" r="13"/></g>
<g id="a6"><circle class="lb" cx="396" cy="411" r="13"/></g>
<g id="a7"><circle class="lb" cx="996" cy="254" r="13"/></g>
<g id="a8"><circle class="lb" cx="1119" cy="227" r="13"/></g>
<g id="a9"><circle class="lb" cx="1131" cy="307" r="13"/></g>
<g id="a10"><circle class="lb" cx="1163" cy="352" r="13"/></g>
<g id="a11"><circle class="lb" cx="1035" cy="466" r="13"/></g>
<g id="a12"><circle class="lb" cx="803" cy="673" r="13.5"/></g>
<g id="a13"><circle class="lb" cx="485" cy="743" r="13"/></g>
<g id="a14"><circle class="lb" cx="583" cy="713" r="13.5"/></g>
<g id="a15"><circle class="lb" cx="594" cy="750" r="13.5"/></g>
<g id="a16"><circle class="lb" cx="721" cy="782" r="14"/></g>
<g id="b1"><circle class="mid" cx="458" cy="491" r="10"/></g>
<g id="b2"><circle class="lb" cx="1257" cy="553" r="10.5" style="fill:#4f8fd2"/></g>
<g id="b3"><circle class="lb" cx="1193" cy="628" r="10.5" style="fill:#4f8fd2"/></g>
<g id="b4"><circle class="lb" cx="1143" cy="750" r="10.5"/></g>
<g id="b5"><circle class="lb" cx="1188" cy="793" r="10.5"/></g>
<g id="b6"><circle class="lb" cx="427" cy="809" r="10.5"/></g>
<g id="b7"><circle class="lb" cx="524" cy="259" r="10.5" style="fill:#4c91b6"/></g>
<g id="ghost"><circle class="gh" cx="954" cy="747" r="11"/></g>
</g>
<g id="n-clusterhubs">
<g id="L1"><circle class="lb" cx="298" cy="197" r="14"/></g>
<g id="L2"><circle class="lb" cx="267" cy="444" r="14"/></g>
<g id="L3"><circle class="tl" cx="245" cy="702" r="14"/></g>
<g id="L4"><circle class="lb" cx="1260" cy="190" r="14"/></g>
<g id="L5"><circle class="lb" cx="1317" cy="433" r="14"/></g>
<g id="L6"><circle class="tl" cx="1330" cy="699" r="14"/></g>
<g id="T"><circle class="lb" cx="878" cy="100" r="14"/></g>
</g>
<g id="n-hubs">
<g id="H1"><circle class="mid" cx="696" cy="212" r="20"/></g>
<g id="H2"><circle class="mid" cx="861" cy="232" r="20"/></g>
<g id="H3"><circle class="mid" cx="539" cy="384" r="20"/></g>
<g id="H4"><circle class="mid" cx="982" cy="385" r="20"/></g>
<g id="H5"><circle class="mid" cx="558" cy="539" r="20"/></g>
<g id="H6"><circle class="mid" cx="991" cy="556" r="20"/></g>
<g id="H7"><circle class="mid" cx="888" cy="610" r="20"/></g>
<g id="H8"><circle class="mid" cx="686" cy="664" r="20"/></g>
<g id="H9"><circle class="mid" cx="968" cy="690" r="18.5"/></g>
</g>
<g id="center"><circle class="hub" cx="784" cy="437" r="48.5"/></g>
</g>
</svg>
